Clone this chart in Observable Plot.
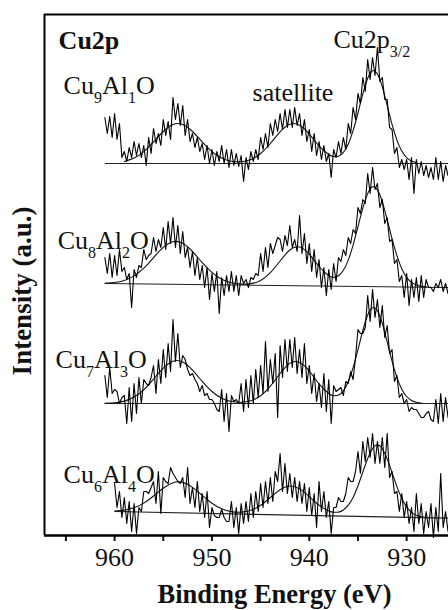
<!DOCTYPE html>
<html>
<head>
<meta charset="utf-8">
<script src="https://cdn.jsdelivr.net/npm/d3@7"></script>
<script src="https://cdn.jsdelivr.net/npm/@observablehq/plot@0.6"></script>
<style>
html, body { margin: 0; padding: 0; background: #fff; }
#chart svg, #chart svg text, #chart svg tspan { font-family: "Liberation Serif", "DejaVu Serif", "Times New Roman", serif !important; }
#chart svg g[aria-label^="x-axis"] path,
#chart svg g[aria-label^="x-axis"] line { stroke-width: 2px; }
</style>
</head>
<body>
<div id="chart"></div>
<script>
// Binding energy grid of the measured spectra (eV)
const energy = [
  961,960.75,960.5,960.25, 960,959.75,959.5,959.25, 959,958.75,958.5,958.25,
  958,957.75,957.5,957.25, 957,956.75,956.5,956.25, 956,955.75,955.5,955.25,
  955,954.75,954.5,954.25, 954,953.75,953.5,953.25, 953,952.75,952.5,952.25,
  952,951.75,951.5,951.25, 951,950.75,950.5,950.25, 950,949.75,949.5,949.25,
  949,948.75,948.5,948.25, 948,947.75,947.5,947.25, 947,946.75,946.5,946.25,
  946,945.75,945.5,945.25, 945,944.75,944.5,944.25, 944,943.75,943.5,943.25,
  943,942.75,942.5,942.25, 942,941.75,941.5,941.25, 941,940.75,940.5,940.25,
  940,939.75,939.5,939.25, 939,938.75,938.5,938.25, 938,937.75,937.5,937.25,
  937,936.75,936.5,936.25, 936,935.75,935.5,935.25, 935,934.75,934.5,934.25,
  934,933.75,933.5,933.25, 933,932.75,932.5,932.25, 932,931.75,931.5,931.25,
  931,930.75,930.5,930.25, 930,929.75,929.5,929.25, 929,928.75,928.5,928.25,
  928,927.75,927.5,927.25, 927,926.75,926.5,926.25, 926,925.75
];

const samples = ["Cu9Al1O", "Cu8Al2O", "Cu7Al3O", "Cu6Al4O"];
const offsets = [372, 252, 132, 24];   // vertical stacking of the spectra (a.u.)

// Measured intensities above each spectrum's baseline (a.u.)
const cu9 = [
  46,30,47,26, 50,24,40,6, 12,2,16,6, 22,8,20,6, 18,-2,26,10, 35,20,30,18,
  44,28,42,24, 66,44,60,38, 58,28,44,22, 30,16,26,12, 20,4,18,0, 14,-2,12,2,
  18,0,14,-4, 14,-2,10,-3, 8,-18,6,-6, 12,2,14,4, 26,14,30,16, 40,28,44,32,
  50,34,54,36, 54,36,56,38, 50,28,44,22, 34,12,30,8, 22,4,18,2, 10,-14,14,6,
  22,10,26,14, 40,30,56,44, 70,60,86,72, 104,84,106,88, 116,82,86,64, 64,36,34,10,
  16,-4,4,-6, 4,-16,6,-30, 4,-10,2,-12, -2,-14,-4,-16, 6,-16,2,-18, -2,-12
];
const cu8 = [
  26,10,30,6, 28,8,34,12, 16,4,10,-24, 14,6,18,16, 34,24,28,30, 46,32,44,36,
  56,34,62,40, 66,36,58,30, 52,26,36,16, 32,8,26,4, 18,-4,16,-16, 10,-8,12,-30,
  6,-12,8,-8, 12,-8,8,-12, 8,0,4,-4, 6,4,10,8, 30,12,36,16, 40,30,38,46,
  44,32,48,38, 58,36,44,32, 68,30,50,20, 40,12,34,6, 24,-4,16,-12, 14,-6,20,2,
  26,22,34,28, 46,40,54,50, 76,70,84,80, 110,90,116,94, 100,76,84,60, 66,42,44,20,
  24,2,8,-14, 10,-22,4,-14, 6,-18,8,-14, 4,-4,-4,-8, 0,-4,4,-8, 0,-10
];
const cu7 = [
  28,6,36,10, 14,12,0,6, 8,-20,16,-18, 20,-10,26,0, 24,20,18,26, 38,10,44,20,
  54,26,60,32, 84,42,70,36, 48,44,34,28, 30,24,20,12, 18,8,10,4, 4,0,-6,-8,
  14,-18,10,-28, 8,2,4,0, 20,-8,24,-4, 28,0,34,6, 38,10,62,12, 44,20,50,-14,
  58,26,64,32, 64,36,66,30, 54,26,60,20, 38,10,30,2, 20,-4,30,-8, 24,-20,18,12,
  14,16,8,22, 20,32,24,46, 74,70,70,76, 108,82,114,86, 104,76,98,66, 78,50,54,22,
  28,6,10,0, 4,-8,-4,-6, -6,-10,-14,-14, -10,-8,-16,-18, 4,-20,10,-18, 6,-14
];
const cu6 = [
  null,null,null,null,
  28,4,20,-6, 14,-12,10,-20, 8,-22,4,0, 20,20,18,24, 30,8,40,-2,
  34,30,28,44, 38,34,30,28, 34,14,44,8, 24,4,30,0, 18,-6,20,-16, 4,-4,-6,-6,
  2,-6,-10,-10, 10,-16,4,-22, 8,-12,10,-10, 18,-6,20,0, 28,4,30,8, 34,10,40,30,
  58,20,48,18, 38,14,34,10, 30,8,28,0, 24,-4,18,-16, 30,0,20,-6, 10,-22,4,4,
  14,10,10,18, 34,30,30,40, 60,38,70,50, 74,54,78,48, 70,48,74,44, 78,34,40,18,
  20,0,18,-6, 10,-12,4,-20, 18,-12,8,-22, 0,-16,8,-26, 4,-20,38,-16, 0,-20
];
const rawSeries = [cu9, cu8, cu7, cu6];

// Fitted envelopes, a.u.
const fitEnergy = [961,960,959,958,957,956,955,954,953,952,951,950,949,948,947,946,945,944,943,942,941,940,939,938,
  937.5,937,936.5,936,935.5,935,934.5,934,933.5,933,932.5,932,931.5,931,930.5,930,929.5,929,928.5,928];
const fit9 = [null,null,2.0,5.4,11.9,21.6,32.0,39.0,39.0,32.0,21.6,11.9,5.5,2.3,1.8,4.1,10.0,20.0,31.6,39.2,38.3,29.4,17.7,9.0,
  7.0,7.3,11.1,19.3,32.8,50.5,69.6,85.3,92.8,89.5,76.6,58.1,39.1,23.4,12.4,5.8,2.4,0.9,null,null];
const fit8 = [0.3,1.0,3.1,7.6,15.3,25.9,36.1,41.8,40.2,32.0,20.9,11.1,4.3,0.7,-0.6,-0.1,3.1,10.8,22.5,33.5,36.5,29.3,17.0,7.8,
  6.1,7.7,13.2,23.4,38.4,56.8,75.3,89.9,96.7,93.6,81.7,63.9,44.8,27.8,14.8,6.1,1.1,-1.6,-2.9,-3.4];
const fit7 = [0.2,0.8,2.4,6.4,13.7,24.4,35.4,42.3,41.5,33.4,22.1,12.0,5.3,2.0,1.3,2.8,7.7,17.3,30.0,40.1,41.1,32.5,19.7,10.0,
  7.8,8.4,12.7,21.7,35.8,53.8,73.0,88.5,95.8,92.6,80.0,61.6,42.4,26.1,14.3,7.0,3.1,1.2,0.4,null];
const fit6 = [null,0.5,1.4,3.7,8.4,15.5,23.3,28.8,29.1,24.1,16.1,8.3,2.7,-0.1,-0.6,1.3,6.2,14.0,21.8,25.5,22.6,14.9,6.4,0.6,
  -0.7,-0.6,1.5,6.3,14.1,25.7,39.5,53.0,63.0,66.7,62.8,52.6,38.9,24.9,13.1,4.6,-0.8,-3.8,-5.3,-6.0];
const fitSeries = [fit9, fit8, fit7, fit6];

// Background lines: start energy, level at start, level at the right edge
const baseStart = [961, 961, 961, 960];
const baseLeft = [0, 0, 0, 0];
const baseRight = [0, -4, 0, -6.7];

const xDomain = [967.2, 925.7];
const yDomain = [0, 521];
const majorTicks = [960, 950, 940, 930];
const minorTicks = [965, 955, 945, 935];

const labelText = ["Cu_9Al_1O", "satellite", "Cu2p_{3/2}", "Cu_8Al_2O", "Cu_7Al_3O", "Cu_6Al_4O"];
const labelEnergy = [965.24, 945.83, 937.52, 965.85, 966.06, 965.24];
const labelLevel = [442, 435, 488, 287, 168, 53];
const panelTitle = ["Cu2p"];
const panelEnergy = [965.75];
const panelLevel = [487];
const xTitle = "Binding Energy (eV)";
const yTitle = "Intensity (a.u.)";

const raw = [];
rawSeries.forEach((s, i) => s.forEach((v, j) => {
  if (v != null) raw.push({sample: samples[i], energy: energy[j], value: offsets[i] + v});
}));
const fits = [];
fitSeries.forEach((s, i) => s.forEach((v, j) => {
  if (v != null) fits.push({sample: samples[i], energy: fitEnergy[j], value: offsets[i] + v});
}));
const baselines = samples.map((s, i) => ({
  x1: baseStart[i], x2: xDomain[1], y1: offsets[i] + baseLeft[i], y2: offsets[i] + baseRight[i]
}));

const serif = "'Liberation Serif', 'DejaVu Serif', serif";
const ink = "#111";

const plot = Plot.plot({
  width: 448,
  height: 610,
  marginTop: 14,
  marginRight: 0,
  marginBottom: 75,
  marginLeft: 44,
  style: {background: "white", fontFamily: serif, fontSize: "25px", color: ink, overflow: "visible"},
  x: {
    domain: xDomain,
    ticks: [...majorTicks, ...minorTicks],
    tickSize: 6,
    tickFormat: () => "",
    label: null
  },
  y: {domain: yDomain, axis: null},
  marks: [
    Plot.link(baselines, {x1: "x1", x2: "x2", y1: "y1", y2: "y2", stroke: "#222", strokeWidth: 1.2}),
    Plot.line(fits, {x: "energy", y: "value", z: "sample", curve: "natural", stroke: "#111", strokeWidth: 1.1}),
    Plot.line(raw, {x: "energy", y: "value", z: "sample", stroke: "#000", strokeWidth: 1.1}),
    Plot.ruleY([yDomain[0]], {stroke: "#000", strokeWidth: 2.5}),
    Plot.ruleY([yDomain[1]], {stroke: "#000", strokeWidth: 2}),
    Plot.ruleX([xDomain[0]], {stroke: "#000", strokeWidth: 2}),
    Plot.text(majorTicks, {
      x: d => d, frameAnchor: "bottom", text: d => String(d), dy: 30,
      lineAnchor: "bottom", textAnchor: "middle", fontSize: 26, fill: ink
    }),
    Plot.text(labelText, {
      x: (d, i) => labelEnergy[i], y: (d, i) => labelLevel[i], text: d => d,
      textAnchor: "start", lineAnchor: "bottom", fontSize: 26, fill: ink
    }),
    Plot.text(panelTitle, {
      x: (d, i) => panelEnergy[i], y: (d, i) => panelLevel[i], text: d => d,
      textAnchor: "start", lineAnchor: "bottom", fontSize: 26, fontWeight: "bold", fill: ink
    }),
    Plot.text([xTitle], {
      frameAnchor: "bottom", text: d => d, dx: 28, dy: 67,
      lineAnchor: "bottom", textAnchor: "middle", fontSize: 26.5, fontWeight: "bold", fill: ink
    }),
    Plot.text([yTitle], {
      frameAnchor: "left", text: d => d, rotate: -90, dx: -14, dy: 16,
      lineAnchor: "bottom", textAnchor: "middle", fontSize: 27, fontWeight: "bold", fill: ink
    })
  ]
});

// Render "_x" / "_{..}" markup as subscripts
plot.querySelectorAll("text").forEach(t => {
  const s = t.textContent;
  if (!s.includes("_")) return;
  while (t.firstChild) t.removeChild(t.firstChild);
  const re = /_\{([^}]*)\}|_(.)|([^_]+)/g;
  let m, low = false;
  const NS = "http://www.w3.org/2000/svg";
  while ((m = re.exec(s))) {
    const span = document.createElementNS(NS, "tspan");
    if (m[3] !== undefined) {
      span.textContent = m[3];
      if (low) { span.setAttribute("dy", "-9"); low = false; }
    } else {
      span.textContent = m[1] !== undefined ? m[1] : m[2];
      span.setAttribute("font-size", "16");
      span.setAttribute("dy", low ? "0" : "9");
      low = true;
    }
    t.appendChild(span);
  }
});

document.getElementById("chart").appendChild(plot);
</script>
</body>
</html>
